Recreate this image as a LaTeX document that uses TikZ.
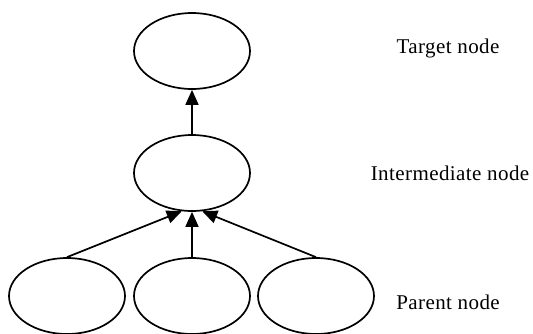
\documentclass[tikz,border=0pt]{standalone}
\usepackage{fontspec}
\setmainfont{Liberation Serif}
\usetikzlibrary{arrows.meta,shapes.geometric}
\tikzset{
	bubble/.style={draw, ellipse, line width=1.7pt, minimum width=116pt, minimum height=76pt, inner sep=0pt},
	link/.style={line width=1.7pt, -{Triangle[length=15pt,width=13pt]}},
	tag/.style={font=\fontsize{21}{25}\selectfont\addfontfeatures{LetterSpace=2}}
}
\begin{document}
\begin{tikzpicture}[x=1pt,y=-1pt]
		%%%%% START %%%%%
		\useasboundingbox (0, 0) rectangle (533, 333);
		
		\node[bubble] (target) at (192, 51) {};
		\node[bubble] (inter) at (192, 173) {};
		
		\node[bubble] (parentA) at (67, 296) {};
		\node[bubble] (parentB) at (192, 296) {};
		\node[bubble] (parentC) at (316, 296) {};
		
		\draw[link] (inter.north) -- (target.south);
		\draw[link] (parentA.north) -- (inter.255);
		\draw[link] (parentB.north) -- (inter.south);
		\draw[link] (parentC.north) -- (inter.285);
		
		\node[tag] (ltarget) at (448, 48) {Target node};
		\node[tag] (linter) at (450, 173) {Intermediate node};
		\node[tag] (lparent) at (448, 302) {Parent node};
		%%%%% END %%%%%
	\end{tikzpicture}
\end{document}
